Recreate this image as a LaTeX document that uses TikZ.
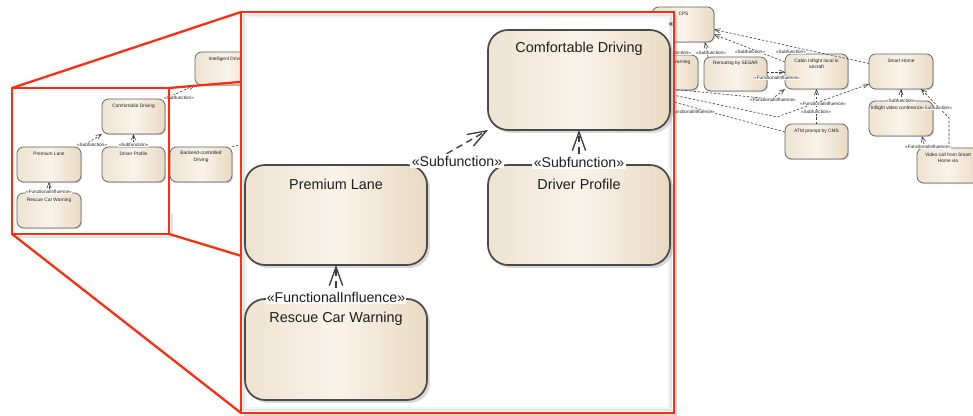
\documentclass[tikz,border=0pt]{standalone}
\usepackage{fontspec}
\setmainfont{Liberation Sans}
\usetikzlibrary{arrows.meta,shadows,calc}
\definecolor{boxL}{HTML}{EEE3D0}
\definecolor{boxM}{HTML}{F9F3EA}
\definecolor{boxR}{HTML}{E9DAC2}
\definecolor{boxline}{HTML}{4A4A4A}
\definecolor{redc}{HTML}{FF2D10}
\definecolor{conn}{HTML}{3C3C3C}
\definecolor{txt}{HTML}{1E1E1E}
\tikzset{
  bbox/.style={draw=boxline, line width=1.3pt, rounded corners=15pt,
    left color=boxL, right color=boxR, middle color=boxM,
    inner sep=0pt, outer sep=0pt,
    drop shadow={shadow xshift=2.2pt, shadow yshift=-2.2pt, opacity=0.3, fill=gray}},
  sbox/.style={draw=boxline!85, line width=0.6pt, rounded corners=5pt,
    left color=boxL, right color=boxR, middle color=boxM,
    inner sep=0pt, outer sep=0pt,
    drop shadow={shadow xshift=0.9pt, shadow yshift=-0.9pt, opacity=0.3, fill=gray}},
  btitle/.style={font=\fontsize{10.8}{13}\selectfont, text=txt, inner sep=0pt},
  stitle/.style={font=\fontsize{3.6}{4.9}\selectfont, text=txt, inner sep=0pt, align=center},
  blabel/.style={font=\fontsize{10.6}{12}\selectfont, fill=white, inner sep=1pt, text=txt},
  slabel/.style={font=\fontsize{3.5}{4}\selectfont, fill=white, inner sep=0.4pt, text=txt},
  bconn/.style={draw=conn, line width=1pt, dash pattern=on 5pt off 3.5pt,
    -{Straight Barb[length=14pt,width=10pt,line width=1pt]}},
  sconn/.style={draw=conn, line width=0.45pt, dash pattern=on 1.8pt off 1.3pt,
    -{Straight Barb[length=4pt,width=3.2pt,line width=0.45pt]}},
  redline/.style={draw=redc, line width=1.7pt},
}
\begin{document}
\begin{tikzpicture}[x=0.75pt,y=-0.75pt]
\useasboundingbox (0,0) rectangle (973,416);
\clip (0,0) rectangle (973,416);
\fill[white] (0,0) rectangle (973,416);

% ---------- free connector ends (hidden under the magnified view) ----------
\coordinate (hBD) at (262,138);
\coordinate (h6) at (640,86);
\coordinate (k6) at (772,99);
\coordinate (h7) at (640,88);
\coordinate (k7) at (777,117);
\coordinate (h8) at (640,93);
\coordinate (k11) at (949,118);

% ---------- underlying (small) diagram: boxes ----------
\node[sbox, minimum width=47.25pt, minimum height=26.25pt] (sCD) at (133.5,116.5) {};
\node[sbox, minimum width=48pt, minimum height=26.25pt] (sPL) at (49,164.5) {};
\node[sbox, minimum width=47.25pt, minimum height=26.25pt] (sDP) at (133.5,164.5) {};
\node[sbox, minimum width=48pt, minimum height=26.25pt] (sRW) at (49,210.5) {};
\node[sbox, minimum width=48pt, minimum height=24.75pt] (sID) at (227,68.5) {};
\node[sbox, minimum width=46.5pt, minimum height=26.25pt] (sBD) at (201,164.5) {};
\node[sbox, minimum width=46.5pt, minimum height=26.25pt] (rCPS) at (683,24.5) {};
\node[sbox, minimum width=45pt, minimum height=26.25pt] (rWarn) at (668,72.5) {};
\node[sbox, minimum width=47.25pt, minimum height=25.5pt] (rRR) at (735.5,74) {};
\node[sbox, minimum width=47.25pt, minimum height=26.25pt] (rCab) at (816.5,71.5) {};
\node[sbox, minimum width=48pt, minimum height=26.25pt] (rSH) at (901,71.5) {};
\node[sbox, minimum width=47.25pt, minimum height=26.25pt] (rATM) at (816.5,141.5) {};
\node[sbox, minimum width=48pt, minimum height=26.25pt] (rIVC) at (901,118.5) {};
\node[sbox, minimum width=48pt, minimum height=26.25pt] (rVC) at (949,165.5) {};

\draw[sconn] (sPL.north east) -- (sCD.south west);
\draw[sconn] (sDP.north) -- (sCD.south);
\draw[sconn] (sRW.north) -- (sPL.south);
\draw[sconn] (sCD.north east) -- (sID.south west);
\draw[sconn] (sBD.north east) -- (hBD);
\draw[sconn] (rWarn.north) -- (rWarn.north |- rCPS.south);
\draw[sconn] ($(rRR.north west)+(4,0)$) -- ($(rCPS.south east)+(-9,0)$);
\draw[sconn] ($(rCab.north west)+(0,8)$) -- ($(rCPS.east)+(0,10)$);
\draw[sconn] ($(rSH.west)+(0,-8)$) -- ($(rCPS.east)+(0,5)$);
\draw[sconn] ($(rRR.east)+(0,-2)$) -- ($(rCab.west)+(0,0.5)$);
\draw[sconn] (h6) -- (k6) -- (rCab.south west);
\draw[sconn] (h7) -- (k7) -- ($(rSH.south west)+(0,-5)$);
\draw[sconn] ($(rATM.west)+(0,-9.5)$) -- (h8);
\draw[sconn] (rATM.north) -- (rCab.south);
\draw[sconn] (rIVC.north) -- (rSH.south);
\draw[sconn] (rVC.north) -- (k11) -- ($(rSH.south east)+(-12,0)$);
\draw[sconn] ($(rVC.north west)+(8,0)$) -- ($(rIVC.south east)+(-11,0)$);

% titles
\node[stitle] (tsCD) at ($(sCD.north)+(0,7)$) {Comfortable Driving};
\node[stitle] (tsPL) at ($(sPL.north)+(0,7)$) {Premium Lane};
\node[stitle] (tsDP) at ($(sDP.north)+(0,7)$) {Driver Profile};
\node[stitle] (tsRW) at ($(sRW.north)+(0,7)$) {Rescue Car Warning};
\node[stitle] (tsID) at ($(sID.north)+(0,7)$) {Intelligent Driving};
\node[stitle] (tsBD) at ($(sBD.north)+(0,9.5)$) {Backend-controlled\\Driving};
\node[stitle] (trCPS) at ($(rCPS.north)+(0.5,7)$) {CPS};
\node[stitle] (trWarn) at ($(rWarn.north)+(0,7)$) {Rescue Car Warning};
\node[stitle] (trRR) at ($(rRR.north)+(0,6)$) {Rerouting by SESAR};
\node[stitle] (trCab) at ($(rCab.north)+(0,10)$) {Cabin Inflight local in\\aircraft};
\node[stitle] (trSH) at ($(rSH.north)+(0,7)$) {Smart Home};
\node[stitle] (trATM) at ($(rATM.north)+(0,7)$) {ATM prompt by CMS};
\node[stitle, anchor=west] (trIVC) at ($(rIVC.north west)+(1.5,7)$) {Inflight video conference};
\node[stitle] (trVC) at ($(rVC.north)+(-1,10)$) {Video call from Smart\\Home via};

% labels
\node[slabel] (sL1) at (92,144.5) {«Subfunction»};
\node[slabel] (sL2) at (133.5,144.5) {«Subfunction»};
\node[slabel] (sL3) at (49,192) {«FunctionalInfluence»};
\node[slabel] (sL4) at (179,97.5) {«Subfunction»};
\node[slabel] (rL1) at (676,53) {«Subfunction»};
\node[slabel] (rL2) at (711,53) {«Subfunction»};
\node[slabel] (rL3) at (750,52) {«Subfunction»};
\node[slabel] (rL4) at (791,52) {«Subfunction»};
\node[slabel] (rL5) at (777,78) {«FunctionalInfluence»};
\node[slabel] (rL6) at (773,100) {«FunctionalInfluence»};
\node[slabel] (rL7) at (823,104) {«FunctionalInfluence»};
\node[slabel] (rL8) at (692,112) {«FunctionalInfluence»};
\node[slabel] (rL9) at (816,112) {«Subfunction»};
\node[slabel] (rL10) at (901,101) {«Subfunction»};
\node[slabel] (rL11) at (937,108) {«Subfunction»};
\node[slabel] (rL12) at (928,147) {«FunctionalInfluence»};

% ---------- small highlight rectangle ----------
\node[draw=redc, line width=1.7pt, minimum width=117.75pt, minimum height=109.5pt,
      inner sep=0pt, outer sep=0pt] (zs) at (90.5,161) {};
\draw[gray!22, line width=2.2pt] ($(zs.south west)+(3,3)$) -- ($(zs.south east)+(3,3)$) -- ($(zs.south east)+(3,-20)$);

% ---------- callout lines ----------
\coordinate (cTR) at (673,45);
\coordinate (cBR) at (673,387);
\coordinate (bTL) at (241,12);
\coordinate (bBL) at (241,413);
\draw[redline] (zs.north west) -- (bTL);
\draw[redline] (zs.south west) -- (bBL);
\draw[redline] (zs.north east) -- (cTR);
\draw[redline] (zs.south east) -- (cBR);

% ---------- magnified view ----------
\node[draw=redc, fill=white, line width=1.7pt, minimum width=324.75pt, minimum height=300.75pt,
      inner sep=0pt, outer sep=0pt,
      drop shadow={shadow xshift=2.5pt, shadow yshift=-2.5pt, opacity=0.3, fill=gray}] (zb) at (457.5,212.5) {};
\draw[gray!20, line width=1.5pt] ($(zb.north west)+(3,3)$) rectangle ($(zb.south east)+(-3,-3)$);
\draw[gray!9, line width=1.5pt] ($(zb.north west)+(5,5)$) rectangle ($(zb.south east)+(-5,-5)$);
\node[font=\fontsize{6}{6}\selectfont\bfseries, text=black!85, inner sep=0pt] (gq) at (671,24.5) {«};

\node[bbox, minimum width=136.5pt, minimum height=75pt] (bCD) at (579,80) {};
\node[bbox, minimum width=136.5pt, minimum height=75pt] (bPL) at (336,215) {};
\node[bbox, minimum width=136.5pt, minimum height=75pt] (bDP) at (579,215) {};
\node[bbox, minimum width=136.5pt, minimum height=75.75pt] (bRW) at (336,349.5) {};

\node[btitle] (tbCD) at ($(bCD.north)+(0,19)$) {Comfortable Driving};
\node[btitle] (tbPL) at ($(bPL.north)+(0,19)$) {Premium Lane};
\node[btitle] (tbDP) at ($(bDP.north)+(0,19)$) {Driver Profile};
\node[btitle] (tbRW) at ($(bRW.north)+(0,20)$) {Rescue Car Warning};

\draw[bconn] (bPL.north east) -- (bCD.south west);
\draw[bconn] (bDP.north) -- (bCD.south);
\draw[bconn] (bRW.north) -- (bPL.south);

\node[blabel] (bL1) at (457,161) {«Subfunction»};
\node[blabel] (bL2) at (579,162) {«Subfunction»};
\node[blabel] (bL3) at (336,297) {«FunctionalInfluence»};
\end{tikzpicture}
\end{document}
